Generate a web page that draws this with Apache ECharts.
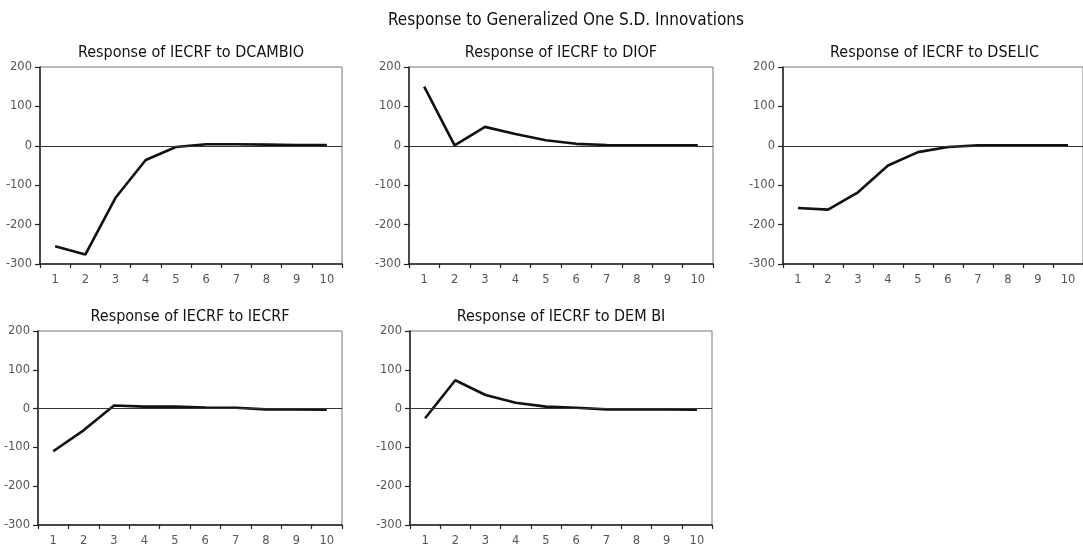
<!DOCTYPE html>
<html>
<head>
<meta charset="utf-8">
<script src="https://cdn.jsdelivr.net/npm/echarts@6/dist/echarts.min.js"></script>
<style>html,body{margin:0;padding:0;background:#fff;}#c{width:1083px;height:547px;}</style>
</head>
<body>
<div id="c"></div>
<script>
const periods = ['1','2','3','4','5','6','7','8','9','10'];
const yTicks = [-300, 200, 100]; // min, max, interval
const mainTitle = 'Response to Generalized One S.D. Innovations';
const panelTitles = [
  'Response of IECRF to DCAMBIO',
  'Response of IECRF to DIOF',
  'Response of IECRF to DSELIC',
  'Response of IECRF to IECRF',
  'Response of IECRF to DEM BI'
];
const respDCAMBIO = [-255, -276, -132, -36, -3, 4, 4, 3, 2, 2];
const respDIOF    = [150, 1, 48, 30, 14, 5, 2, 1, 1, 1];
const respDSELIC  = [-158, -162, -118, -50, -16, -3, 1, 1, 1, 1];
const respIECRF   = [-110, -56, 8, 5, 5, 3, 2, -2, -2, -3];
const respDEMBI   = [-25, 73, 35, 15, 5, 2, -2, -2, -2, -3];

const seriesData = [respDCAMBIO, respDIOF, respDSELIC, respIECRF, respDEMBI];
const TFONT = "'DejaVu Sans Condensed', 'Liberation Sans Narrow', 'Roboto', sans-serif";
const AFONT = "'DejaVu Sans', sans-serif";

const grids = [
  {left: 40,  top: 67,  width: 302, height: 197},
  {left: 409, top: 67,  width: 304, height: 197},
  {left: 783, top: 67,  width: 303, height: 197},
  {left: 38,  top: 331, width: 304, height: 197},
  {left: 410, top: 331, width: 302, height: 197}
];

const option = {
  backgroundColor: '#fff',
  animation: false,
  grid: grids.map(g => Object.assign({show: true, borderColor: '#777', borderWidth: 1, backgroundColor: 'transparent'}, g)),
  xAxis: grids.map((g, i) => ({
    type: 'category', gridIndex: i, data: periods, boundaryGap: true,
    axisLine: {show: true, onZero: false, lineStyle: {color: '#222', width: 1.5}},
    axisTick: {show: true, length: 4, lineStyle: {color: '#222', width: 1.2}},
    axisLabel: {color: '#555', fontSize: 11.5, fontFamily: AFONT, margin: 10},
    splitLine: {show: false}
  })),
  yAxis: grids.map((g, i) => ({
    type: 'value', gridIndex: i, min: yTicks[0], max: yTicks[1], interval: yTicks[2],
    axisLine: {show: true, lineStyle: {color: '#222', width: 1.5}},
    axisTick: {show: true, length: 5, lineStyle: {color: '#222', width: 1.2}},
    axisLabel: {color: '#555', fontSize: 11.5, fontFamily: AFONT, margin: 8},
    splitLine: {show: false}
  })),
  graphic: [
    {type: 'text', x: 566, y: 21, style: {text: mainTitle, font: '17px ' + TFONT, fill: '#111', textAlign: 'center', textVerticalAlign: 'middle'}}
  ].concat(grids.map((g, i) => ({
    type: 'text', x: g.left + g.width / 2, y: g.top - 14,
    style: {text: panelTitles[i], font: '16px ' + TFONT, fill: '#111', textAlign: 'center', textVerticalAlign: 'middle'}
  }))),
  series: seriesData.map((d, i) => ({
    type: 'line', xAxisIndex: i, yAxisIndex: i, data: d,
    symbol: 'none', lineStyle: {color: '#111', width: 2.6}, clip: false,
    markLine: {
      silent: true, symbol: 'none', label: {show: false},
      lineStyle: {color: '#333', width: 1, type: 'solid'},
      data: [{yAxis: 0}]
    }
  }))
};
const chart = echarts.init(document.getElementById('c'), null, {renderer: 'canvas'});
chart.setOption(option);
</script>
</body>
</html>
